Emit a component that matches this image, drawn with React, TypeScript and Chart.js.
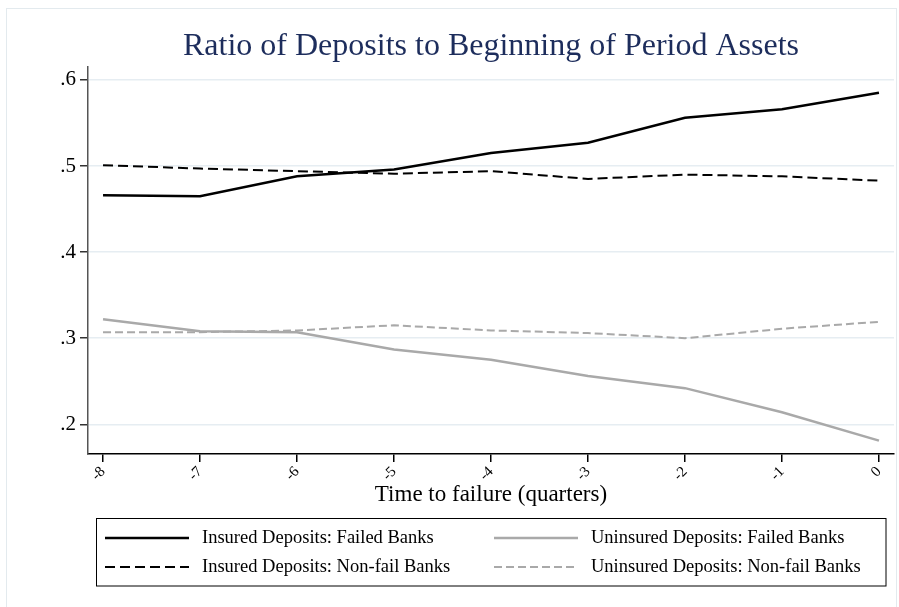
import React, { useEffect, useRef } from "react";
import { Chart, registerables } from "chart.js";

Chart.register(...registerables);

const quarters = [-8, -7, -6, -5, -4, -3, -2, -1, 0];
const insuredFailed = [0.466, 0.465, 0.488, 0.496, 0.515, 0.527, 0.556, 0.566, 0.585];
const insuredNonfail = [0.501, 0.497, 0.494, 0.491, 0.494, 0.485, 0.49, 0.488, 0.483];
const uninsuredFailed = [0.322, 0.308, 0.307, 0.287, 0.275, 0.256, 0.242, 0.214, 0.181];
const uninsuredNonfail = [0.307, 0.307, 0.309, 0.315, 0.309, 0.306, 0.3, 0.311, 0.319];
const yTicks = [0.2, 0.3, 0.4, 0.5, 0.6];
const xTicks = quarters;

const SERIF = '"Liberation Serif", "Times New Roman", serif';

const toPoints = (ys: number[]) => quarters.map((q, i) => ({ x: q, y: ys[i] }));

const framePlugin = {
  id: "frame",
  beforeDraw(chart: any) {
    const ctx = chart.ctx;
    ctx.save();
    ctx.fillStyle = "#ffffff";
    ctx.fillRect(0, 0, chart.width, chart.height);
    ctx.strokeStyle = "#e3eaee";
    ctx.lineWidth = 1;
    ctx.strokeRect(6.5, 8.5, 890, 620);
    ctx.restore();
  },
};

const legendPlugin = {
  id: "boxLegend",
  afterDraw(chart: any) {
    const ctx = chart.ctx;
    const ds = chart.data.datasets;
    const order = [0, 2, 1, 3];
    ctx.save();
    ctx.strokeStyle = "#000";
    ctx.lineWidth = 1;
    ctx.setLineDash([]);
    ctx.strokeRect(96.5, 518.5, 789.5, 67.5);
    const colX = [105, 494];
    const rowY = [538, 567];
    order.forEach((di, k) => {
      const d = ds[di];
      const cx = colX[k % 2];
      const cy = rowY[Math.floor(k / 2)];
      ctx.beginPath();
      ctx.strokeStyle = d.borderColor;
      ctx.lineWidth = d.borderWidth;
      ctx.setLineDash(d.borderDash || []);
      ctx.moveTo(cx, cy);
      ctx.lineTo(cx + 84, cy);
      ctx.stroke();
      ctx.setLineDash([]);
      ctx.fillStyle = "#000";
      ctx.font = `18.5px ${SERIF}`;
      ctx.textBaseline = "middle";
      ctx.textAlign = "left";
      ctx.fillText(d.label, cx + 97, cy);
    });
    ctx.restore();
  },
};

export default function App() {
  const ref = useRef<HTMLCanvasElement | null>(null);
  useEffect(() => {
    if (!ref.current) return;
    const chart = new Chart(ref.current, {
      type: "line",
      data: {
        datasets: [
          {
            label: "Insured Deposits: Failed Banks",
            data: toPoints(insuredFailed),
            borderColor: "#000000",
            borderWidth: 2.5,
            pointRadius: 0,
            tension: 0,
          },
          {
            label: "Insured Deposits: Non-fail Banks",
            data: toPoints(insuredNonfail),
            borderColor: "#000000",
            borderWidth: 2,
            borderDash: [10, 5],
            pointRadius: 0,
            tension: 0,
          },
          {
            label: "Uninsured Deposits: Failed Banks",
            data: toPoints(uninsuredFailed),
            borderColor: "#a9a9a9",
            borderWidth: 2.5,
            pointRadius: 0,
            tension: 0,
          },
          {
            label: "Uninsured Deposits: Non-fail Banks",
            data: toPoints(uninsuredNonfail),
            borderColor: "#a9a9a9",
            borderWidth: 2,
            borderDash: [8, 4],
            pointRadius: 0,
            tension: 0,
          },
        ],
      },
      options: {
        animation: false,
        responsive: true,
        maintainAspectRatio: false,
        layout: { padding: { top: 0, left: 0, right: 5, bottom: 97 } },
        plugins: {
          legend: { display: false },
          tooltip: { enabled: false },
          title: {
            display: true,
            fullSize: false,
            text: "Ratio of Deposits to Beginning of Period Assets",
            color: "#1d2d5c",
            font: { family: SERIF, size: 32, weight: "normal", lineHeight: 1.2 },
            padding: { top: 27.8, bottom: 0.8 },
          },
        },
        scales: {
          x: {
            type: "linear",
            min: -8.155,
            max: 0.155,
            afterBuildTicks: (s: any) => {
              s.ticks = xTicks.map((v) => ({ value: v }));
            },
            afterFit: (s: any) => {
              s.height = 56;
            },
            ticks: {
              autoSkip: false,
              minRotation: 45,
              maxRotation: 45,
              padding: 1,
              color: "#000",
              font: { family: SERIF, size: 15 },
              callback: (v: any) => String(v),
            },
            grid: {
              drawOnChartArea: false,
              tickLength: 8,
              tickColor: "#000",
              lineWidth: 1.5,
            },
            border: { color: "#000", width: 1.5 },
            title: {
              display: true,
              text: "Time to failure (quarters)",
              color: "#000",
              font: { family: SERIF, size: 23, lineHeight: 1.2 },
              padding: { top: 0, bottom: 1.2 },
            },
          },
          y: {
            type: "linear",
            min: 0.1655,
            max: 0.615,
            afterBuildTicks: (s: any) => {
              s.ticks = yTicks.map((v) => ({ value: v }));
            },
            afterFit: (s: any) => {
              s.width = 88;
            },
            ticks: {
              padding: 4,
              color: "#000",
              font: { family: SERIF, size: 21 },
              callback: (v: any) => Number(v).toFixed(1).replace(/^0/, ""),
            },
            grid: {
              color: "#e6edf2",
              lineWidth: 1.5,
              tickLength: 8,
              tickColor: "#333",
            },
            border: { color: "#555", width: 1.5 },
          },
        },
      },
      plugins: [framePlugin, legendPlugin],
    } as any);
    return () => chart.destroy();
  }, []);
  return (
    <div style={{ position: "fixed", left: 0, top: 0, width: 899, height: 607 }}>
      <canvas ref={ref} />
    </div>
  );
}
